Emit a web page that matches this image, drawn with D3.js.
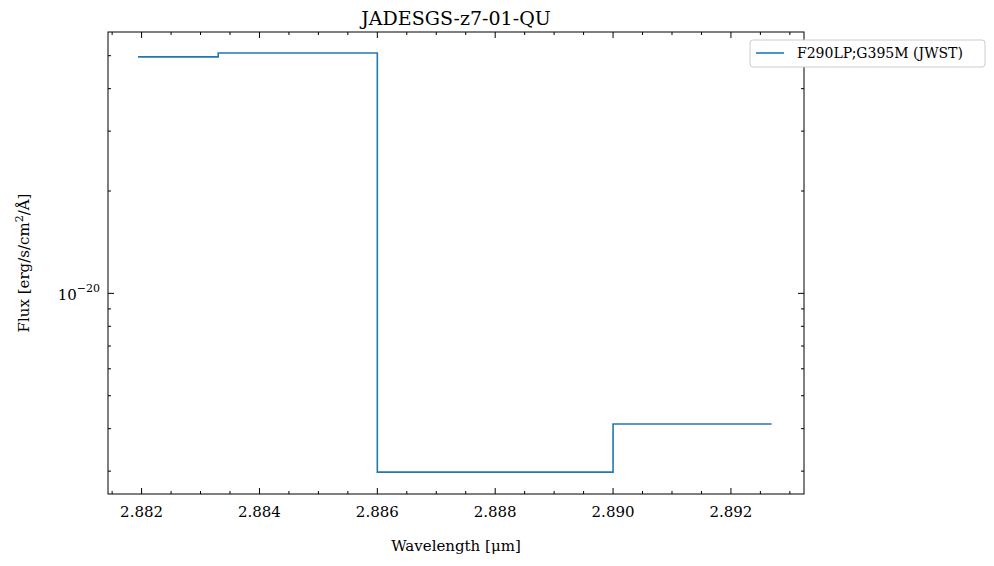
<!DOCTYPE html>
<html><head><meta charset="utf-8">
<script src="https://cdn.jsdelivr.net/npm/d3@7"></script>
<style>body{margin:0;background:#fff}text{font-family:"DejaVu Serif",serif;fill:#000}</style>
</head><body><svg width="994" height="566"></svg>
<script>
const edges = [2.88194, 2.8833, 2.886, 2.890, 2.89269];
const fluxes = [4.96e-20, 5.09e-20, 2.98e-21, 4.13e-21];
const xTicks = [2.882, 2.884, 2.886, 2.888, 2.890, 2.892];
const title = 'JADESGS-z7-01-QU';
const seriesName = 'F290LP;G395M (JWST)';

const svg = d3.select('svg');
const m = {l: 108, r: 804, t: 32, b: 494};
const x = d3.scaleLinear().domain([2.88143, 2.89324]).range([m.l, m.r]);
const y = d3.scaleLog().domain([2.57e-21, 5.87e-20]).range([m.b, m.t]);

const pts = edges.map((e, i) => [e, fluxes[Math.min(i, fluxes.length - 1)]]);
svg.append('path').datum(pts)
  .attr('fill', 'none').attr('stroke', '#1f77b4').attr('stroke-width', 1.6)
  .attr('d', d3.line().x(d => x(d[0])).y(d => y(d[1])).curve(d3.curveStepAfter));

const g = svg.append('g').attr('stroke', '#000');
const minorX = d3.range(2.8815, 2.8933, 0.0005).filter(v => !xTicks.some(t => Math.abs(t - v) < 1e-7));
xTicks.forEach(t => {
  g.append('line').attr('x1', x(t)).attr('x2', x(t)).attr('y1', m.b).attr('y2', m.b - 6);
  g.append('line').attr('x1', x(t)).attr('x2', x(t)).attr('y1', m.t).attr('y2', m.t + 6);
  svg.append('text').attr('x', x(t)).attr('y', m.b + 23).attr('text-anchor', 'middle')
    .attr('font-size', 15).text(t.toFixed(3));
});
minorX.forEach(t => {
  g.append('line').attr('x1', x(t)).attr('x2', x(t)).attr('y1', m.b).attr('y2', m.b - 3);
  g.append('line').attr('x1', x(t)).attr('x2', x(t)).attr('y1', m.t).attr('y2', m.t + 3);
});
const minorY = [3e-21, 4e-21, 5e-21, 6e-21, 7e-21, 8e-21, 9e-21, 2e-20, 3e-20, 4e-20, 5e-20];
minorY.forEach(v => {
  g.append('line').attr('x1', m.l).attr('x2', m.l + 3).attr('y1', y(v)).attr('y2', y(v));
  g.append('line').attr('x1', m.r).attr('x2', m.r - 3).attr('y1', y(v)).attr('y2', y(v));
});
[1e-20].forEach(v => {
  g.append('line').attr('x1', m.l).attr('x2', m.l + 6).attr('y1', y(v)).attr('y2', y(v));
  g.append('line').attr('x1', m.r).attr('x2', m.r - 6).attr('y1', y(v)).attr('y2', y(v));
  const t = svg.append('text').attr('x', m.l - 8).attr('y', y(v) + 7).attr('text-anchor', 'end');
  t.append('tspan').attr('font-size', 15).text('10');
  t.append('tspan').attr('dy', -8).attr('font-size', 11).text('−20');
});
svg.append('rect').attr('x', m.l).attr('y', m.t).attr('width', m.r - m.l).attr('height', m.b - m.t)
  .attr('fill', 'none').attr('stroke', '#000').attr('stroke-width', 1);

svg.append('text').attr('x', (m.l + m.r) / 2).attr('y', 25).attr('text-anchor', 'middle')
  .attr('font-size', 19).text(title);
svg.append('text').attr('x', (m.l + m.r) / 2).attr('y', 551).attr('text-anchor', 'middle')
  .attr('font-size', 15).text('Wavelength [μm]');
const yl = svg.append('text').attr('transform', 'translate(29,' + ((m.t + m.b) / 2) + ') rotate(-90)')
  .attr('text-anchor', 'middle').attr('font-size', 15);
yl.append('tspan').text('Flux [erg/s/cm');
yl.append('tspan').attr('dy', -6).attr('font-size', 11).text('2');
yl.append('tspan').attr('dy', 6).text('/Å]');

const lg = svg.append('g').attr('transform', 'translate(750,40)');
lg.append('rect').attr('width', 235).attr('height', 27).attr('rx', 3)
  .attr('fill', '#fff').attr('stroke', '#ccc');
lg.append('line').attr('x1', 6).attr('x2', 34).attr('y1', 13).attr('y2', 13)
  .attr('stroke', '#1f77b4').attr('stroke-width', 1.6);
lg.append('text').attr('x', 47).attr('y', 18).attr('font-size', 14).text(seriesName);
</script></body></html>
